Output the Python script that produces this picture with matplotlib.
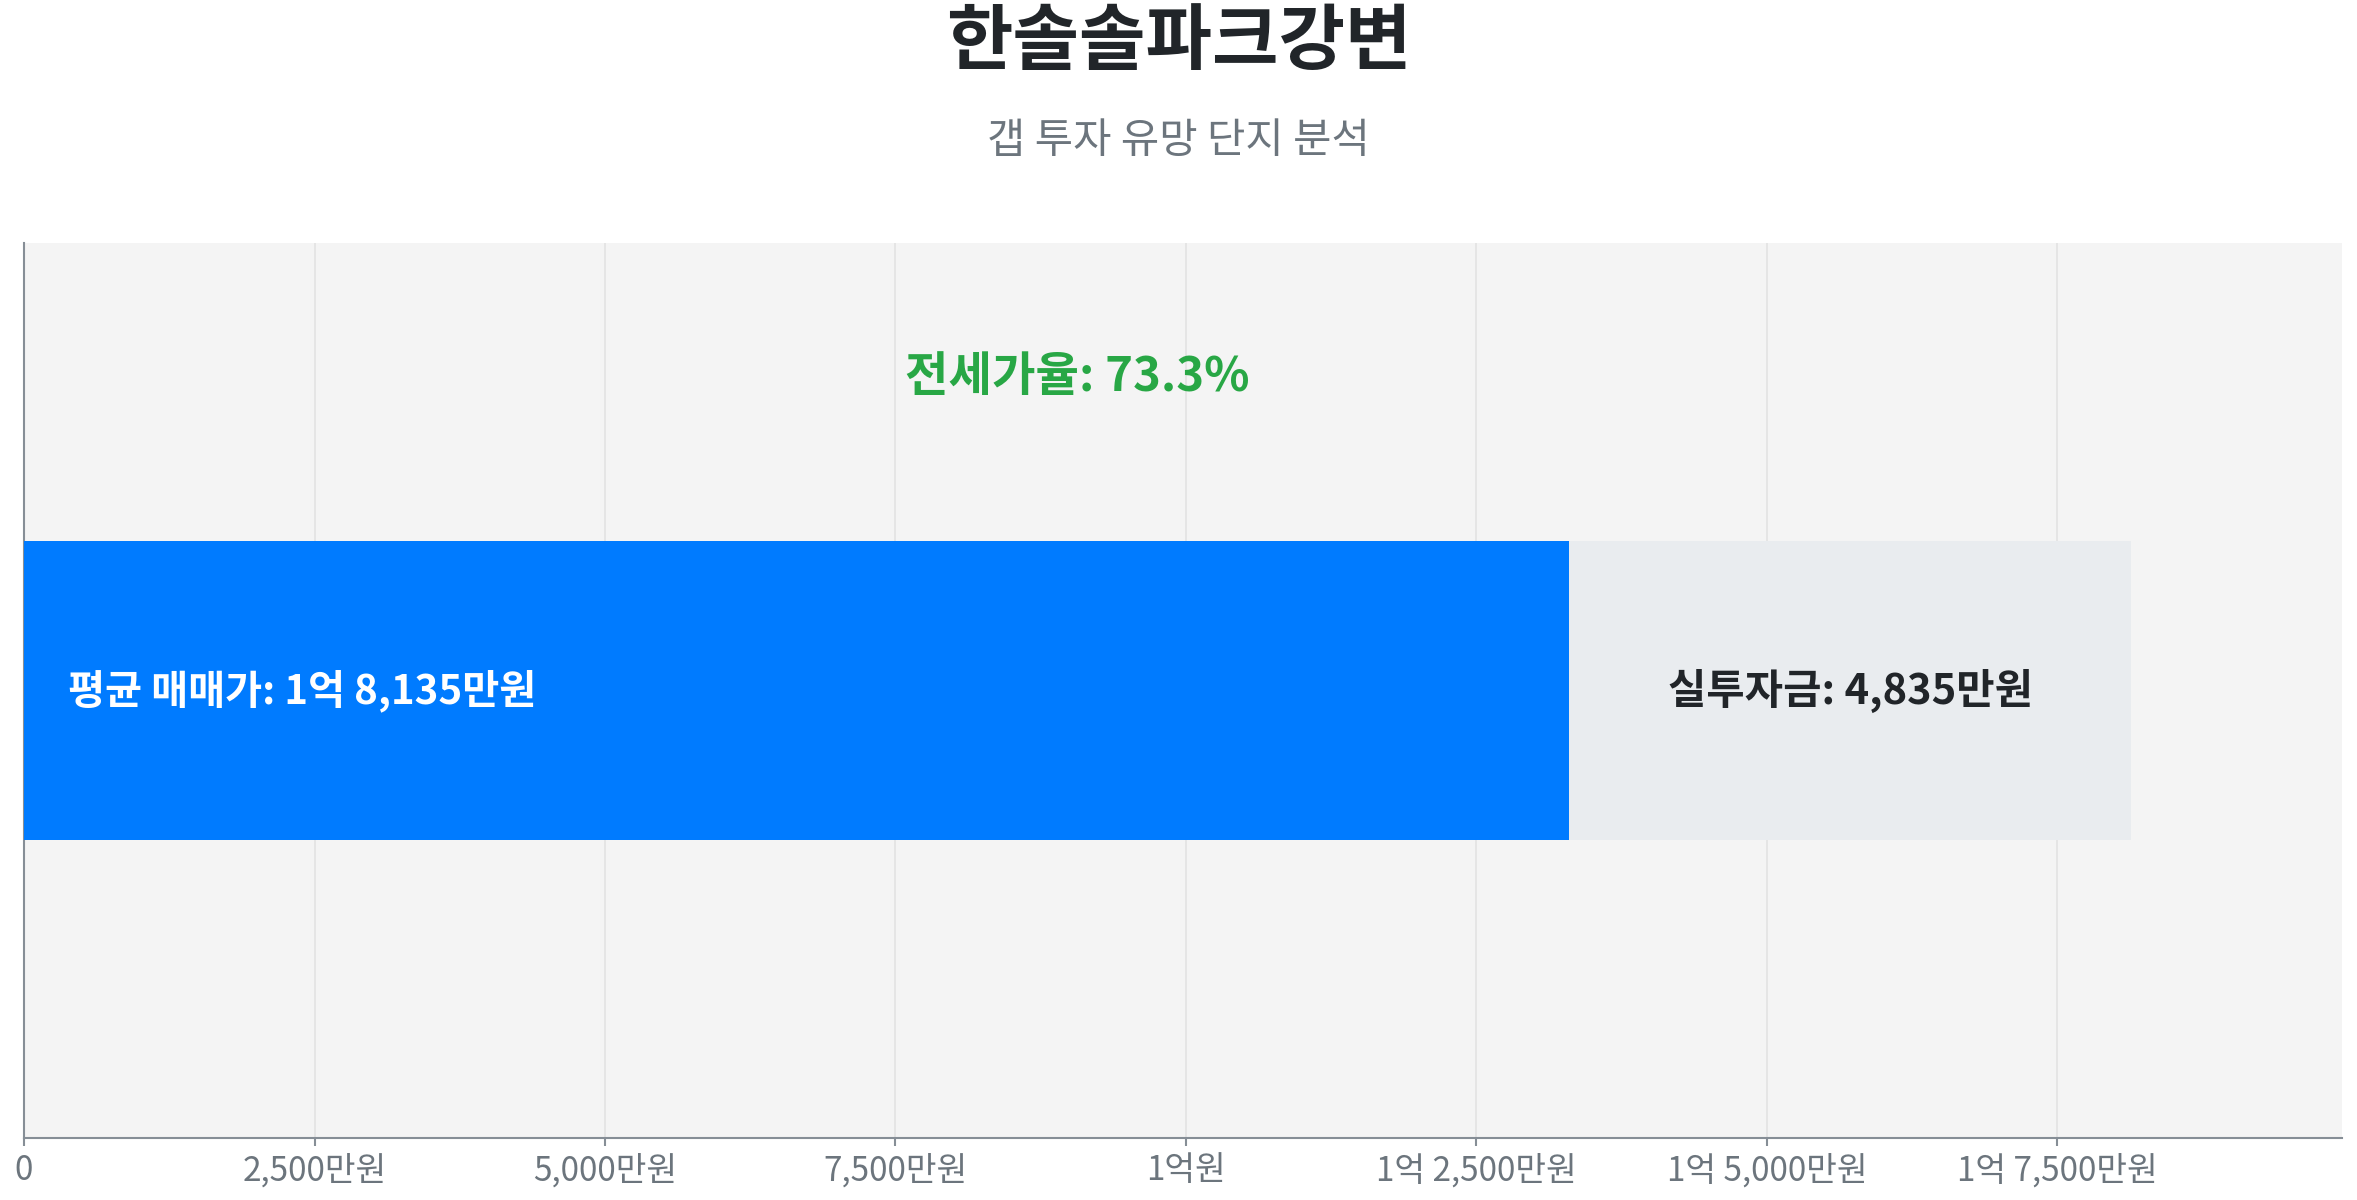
import matplotlib
matplotlib.use("Agg")
import matplotlib.pyplot as plt

plt.rcParams["font.family"] = ["Noto Sans CJK KR", "DejaVu Sans"]

# values in 만원
title = "한솔솔파크강변"
subtitle = "갭 투자 유망 단지 분석"
avg_price = 18135
gap_investment = 4835
jeonse_price = avg_price - gap_investment
jeonse_rate = 73.3
price_label = "평균 매매가: 1억 8,135만원"
gap_label = "실투자금: 4,835만원"
rate_label = f"전세가율: {jeonse_rate}%"

tick_values = [0, 2500, 5000, 7500, 10000, 12500, 15000, 17500]
tick_labels = ["0", "2,500만원", "5,000만원", "7,500만원", "1억원",
               "1억 2,500만원", "1억 5,000만원", "1억 7,500만원"]

fig = plt.figure(figsize=(23.57, 12), dpi=100)
ax = fig.add_axes([0.0102, 0.0517, 0.9834, 0.7458])
ax.set_facecolor("#f4f4f4")

bar_h = 1.0
ax.barh(0, jeonse_price, height=bar_h, color="#007bff", zorder=3)
ax.barh(0, gap_investment, left=jeonse_price, height=bar_h, color="#e9ecef", zorder=3)

ax.text(375, 0, price_label, color="white", fontsize=29, fontweight="bold",
        ha="left", va="center", zorder=4)
ax.text(jeonse_price + gap_investment / 2, 0, gap_label, color="#212529",
        fontsize=30, fontweight="bold", ha="center", va="center", zorder=4)
ax.text(avg_price / 2, 1.05 * bar_h, rate_label, color="#28a745",
        fontsize=34, fontweight="bold", ha="center", va="center", zorder=4)

ax.set_xlim(0, 19950)
ax.set_ylim(-1.5, 1.5)
ax.set_xticks(tick_values)
ax.set_xticklabels(tick_labels)
ax.set_yticks([])
ax.tick_params(axis="x", colors="#868e96", labelcolor="#6c757d",
               labelsize=24, length=6, width=1.5, pad=5)
ax.grid(axis="x", color="#e3e3e3", linewidth=1.2, zorder=0)
ax.set_axisbelow(True)

for side in ("top", "right"):
    ax.spines[side].set_visible(False)
for side in ("left", "bottom"):
    ax.spines[side].set_color("#868e96")
    ax.spines[side].set_linewidth(1.5)

fig.text(0.5, 0.964, title, color="#212529", fontsize=52, fontweight="bold",
         ha="center", va="center")
fig.text(0.5, 0.882, subtitle, color="#6c757d", fontsize=30,
         ha="center", va="center")

fig.savefig("out.png", dpi=100)
